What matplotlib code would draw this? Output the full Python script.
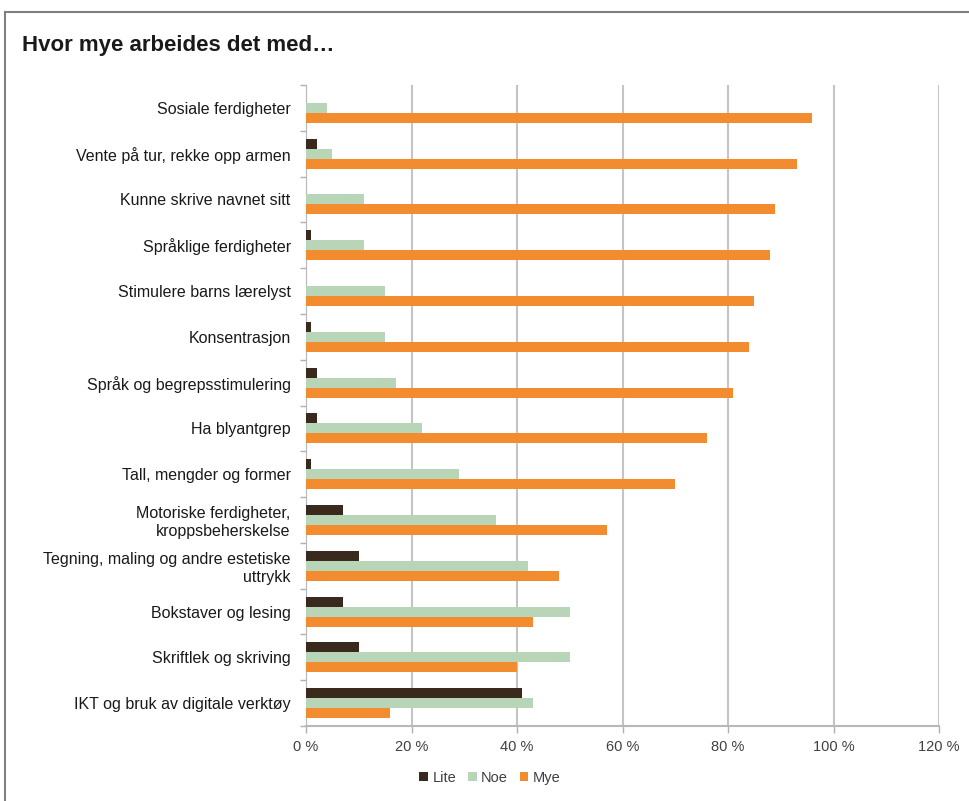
import matplotlib.pyplot as plt
from matplotlib.lines import Line2D
from matplotlib.ticker import FuncFormatter, MultipleLocator
import numpy as np

plt.rcParams['font.family'] = ['Liberation Sans', 'DejaVu Sans']

categories = [
    "Sosiale ferdigheter",
    "Vente på tur, rekke opp armen",
    "Kunne skrive navnet sitt",
    "Språklige ferdigheter",
    "Stimulere barns lærelyst",
    "Konsentrasjon",
    "Språk og begrepsstimulering",
    "Ha blyantgrep",
    "Tall, mengder og former",
    "Motoriske ferdigheter,\nkroppsbeherskelse",
    "Tegning, maling og andre estetiske\nuttrykk",
    "Bokstaver og lesing",
    "Skriftlek og skriving",
    "IKT og bruk av digitale verktøy",
]
lite = [0, 2, 0, 1, 0, 1, 2, 2, 1, 7, 10, 7, 10, 41]
noe = [4, 5, 11, 11, 15, 15, 17, 22, 29, 36, 42, 50, 50, 43]
mye = [96, 93, 89, 88, 85, 84, 81, 76, 70, 57, 48, 43, 40, 16]
series_names = ["Lite", "Noe", "Mye"]
colors = ["#3a2a1e", "#b9d5b8", "#f28c2e"]

fig = plt.figure(figsize=(9.69, 8.01), dpi=100)
ax = fig.add_axes([306 / 969, 1 - 726 / 801, 633 / 969, 641 / 801])

y = np.arange(len(categories))
h = 0.218
for i, (vals, col, name) in enumerate(zip([lite, noe, mye], colors, series_names)):
    ax.barh(y + (i - 1) * h, vals, height=h, color=col, label=name, zorder=3)

ax.set_xlim(0, 120)
ax.set_ylim(len(categories) - 0.5, -0.5)
ax.xaxis.set_major_locator(MultipleLocator(20))
ax.xaxis.set_major_formatter(FuncFormatter(lambda v, p: f"{int(v)} %"))
ax.grid(axis='x', color='#c4c4c4', linewidth=1.5, zorder=0)

ax.set_yticks(y)
ax.set_yticklabels(categories, fontsize=11.5, color='#1a1a1a')
ax.set_yticks(np.arange(len(categories) + 1) - 0.5, minor=True)
ax.tick_params(axis='y', which='major', length=0, pad=11)
ax.tick_params(axis='y', which='minor', length=4, color='#b0b0b0', width=1)
ax.tick_params(axis='x', length=5, color='#b0b0b0', width=1,
               labelsize=10.5, labelcolor='#404040', pad=5)

for s in ['top', 'right']:
    ax.spines[s].set_visible(False)
ax.spines['left'].set_color('#b8b8b8')
ax.spines['bottom'].set_color('#b8b8b8')
ax.spines['bottom'].set_linewidth(1.5)

fig.text(22 / 969, 1 - 45 / 801, "Hvor mye arbeides det med…", fontsize=16,
         fontweight='bold', ha='left', va='center', color='#1a1a1a')

handles, labels = ax.get_legend_handles_labels()
fig.legend(handles, labels, loc='center', bbox_to_anchor=(490 / 969, 1 - 778 / 801),
           ncol=3, frameon=False, fontsize=10.5, handlelength=0.6, handleheight=0.6,
           handletextpad=0.3, columnspacing=0.8, labelcolor='#404040')

# frame round the chart
fig.add_artist(Line2D([5 / 969, 5 / 969], [0, 1 - 12 / 801], color='#808080', lw=1.5))
fig.add_artist(Line2D([5 / 969, 1], [1 - 12 / 801, 1 - 12 / 801], color='#808080', lw=1.5))

fig.savefig("out.png", dpi=100)
